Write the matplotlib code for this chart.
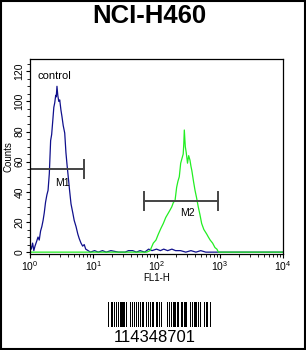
'''flow cytometry histogram, NCI-H460.'''
import numpy as np
import matplotlib.pyplot as plt
from matplotlib.patches import Rectangle
from matplotlib.ticker import MultipleLocator, LogLocator, NullFormatter

# control (blue) histogram: FL1-H value, counts
ctrl_x = [1.0, 1.05, 1.1, 1.15, 1.2, 1.27, 1.34, 1.4, 1.47, 1.54, 1.61, 1.68,
          1.76, 1.85, 1.93, 2.02, 2.12, 2.2, 2.3, 2.38, 2.46, 2.55, 2.6, 2.67,
          2.75, 2.85, 2.95, 3.09, 3.2, 3.35, 3.54, 3.7, 3.85, 3.98, 4.2, 4.45,
          4.75, 5.0, 5.34, 5.7, 6.0, 6.4, 6.8, 7.2, 7.6, 8.3, 9.0, 10.5, 12,
          14, 16, 19, 25, 32, 36, 42, 48, 55, 65, 75, 85, 100, 115, 130, 150,
          175, 200, 240, 290, 350, 420, 500, 600, 800, 1000, 10000]
ctrl_y = [5, 2, 6, 1, 4, 7, 10, 8, 14, 17, 21, 26,
          33, 38, 41, 52, 74, 78, 88, 96, 99, 104, 103, 110,
          104, 100, 101, 94, 90, 84, 79, 66, 58, 52, 42, 32,
          26, 21, 17, 12, 9, 6, 4, 5, 2, 1, 0, 1, 0,
          1, 0, 1, 0, 0, 1, 1, 0, 1, 0, 2, 1, 2, 1, 2, 1,
          2, 1, 1, 0, 1, 0, 1, 0, 0, 0, 0]

# sample (green) histogram
samp_x = [1.0, 60, 70, 79, 89, 98, 107, 118, 128, 140, 154, 164, 174, 185,
          196, 208, 218, 229, 241, 252, 264, 270, 275, 285, 295, 309, 322,
          338, 350, 362, 384, 406, 430, 457, 485, 517, 560, 621, 660, 705,
          770, 840, 900, 950, 1000, 10000]
samp_y = [0, 0, 0, 1, 6, 8, 12, 16, 19, 23, 26, 28, 30, 33,
          34, 43, 47, 50, 59, 62, 65, 72, 81, 70, 66, 59, 64,
          61, 57, 54, 47, 41, 36, 30, 25, 19, 15, 12, 10, 8,
          6, 3, 2, 0, 0, 0]

# marker gates: (left, right, height, label, label x, label y)
gates = [(1.0, 7.2, 55, 'M1', 3.2, 46),
         (64, 950, 34, 'M2', 310, 26)]

yticks = [0, 20, 40, 60, 80, 100, 120]
barcode_text = '114348701'
# bar/space module widths, starting with a bar
barcode_widths = ('2112321222132111321213123112221321112321321121231121'
                  '21311213212311213211231121312113221231121322112331112')

fig = plt.figure(figsize=(3.06, 3.5), dpi=100)
fig.patches.append(Rectangle((0.002, 0.002), 0.996, 0.996, transform=fig.transFigure,
                             fill=False, edgecolor='black', linewidth=1.5))
fig.text(0.487, 0.955, 'NCI-H460', ha='center', va='center', fontsize=18.5,
         fontweight='bold', family='Liberation Sans')

ax = fig.add_axes([0.098, 0.274, 0.827, 0.557])
ax.plot(ctrl_x, ctrl_y, color='#10108c', linewidth=0.9)
ax.plot(samp_x, samp_y, color='#22ee22', linewidth=0.9)

for x0, x1, h, lab, lx, ly in gates:
    ax.plot([x0, x1], [h, h], color='#444444', linewidth=1.4)
    ax.plot([x0, x0], [h - 6, h + 6], color='#444444', linewidth=1.4)
    ax.plot([x1, x1], [h - 6, h + 6], color='#444444', linewidth=1.4)
    ax.text(lx, ly, lab, ha='center', va='center', fontsize=7.5,
            family='Liberation Sans')

ax.text(1.3, 117, 'control', ha='left', va='center', fontsize=8,
        family='Liberation Sans')

ax.set_xscale('log')
ax.set_xlim(1, 10000)
ax.set_ylim(-1.3, 128)
ax.set_yticks(yticks)
ax.set_yticklabels([str(v) for v in yticks], rotation=90, va='center')
ax.yaxis.set_minor_locator(MultipleLocator(5))
ax.xaxis.set_major_locator(LogLocator(base=10))
ax.xaxis.set_minor_locator(LogLocator(base=10, subs=np.arange(2, 10)))
ax.xaxis.set_minor_formatter(NullFormatter())
ax.tick_params(which='major', length=3, width=0.8, labelsize=7.5, pad=1)
ax.tick_params(which='minor', length=2, width=0.6)
for lbl in ax.get_xticklabels() + ax.get_yticklabels():
    lbl.set_family('Liberation Sans')
ax.set_xlabel('FL1-H', fontsize=7, labelpad=0, family='Liberation Sans')
ax.set_ylabel('Counts', fontsize=7, labelpad=1, family='Liberation Sans')
for s in ax.spines.values():
    s.set_linewidth(0.9)

# barcode
bx = fig.add_axes([108 / 306, 1 - 327 / 350, 103 / 306, 25 / 350])
pos = 0
for i, w in enumerate(barcode_widths):
    w = int(w)
    if i % 2 == 0:
        bx.bar(pos, 1, width=w, align='edge', color='black', linewidth=0)
    pos += w
bx.set_xlim(0, pos)
bx.set_ylim(0, 1)
bx.axis('off')
fig.text(155 / 306, 1 - 337 / 350, barcode_text, ha='center', va='center',
         fontsize=12, family='Liberation Sans')

fig.savefig('out.png', dpi=100)
